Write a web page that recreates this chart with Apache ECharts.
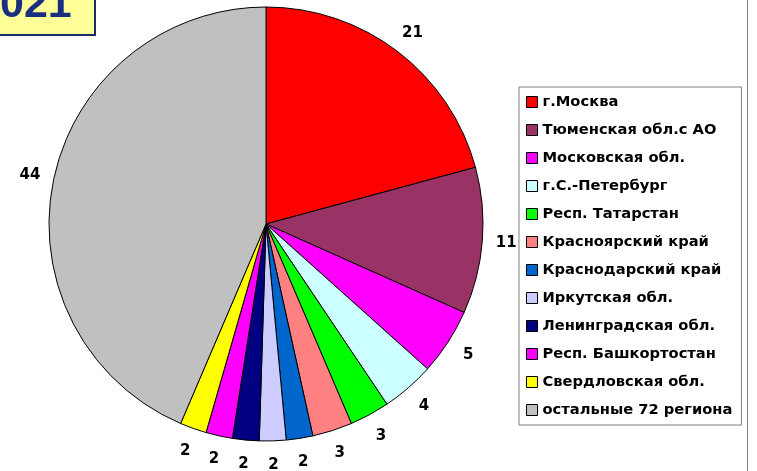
<!DOCTYPE html>
<html>
<head>
<meta charset="utf-8">
<script src="https://cdn.jsdelivr.net/npm/echarts@6/dist/echarts.min.js"></script>
<style>
  html, body { margin: 0; padding: 0; background: #fff; }
  #chart { width: 757px; height: 471px; }
</style>
</head>
<body>
<div id="chart"></div>
<script>
const regions = [
  'г.Москва',
  'Тюменская обл.с АО',
  'Московская обл.',
  'г.С.-Петербург',
  'Респ. Татарстан',
  'Красноярский край',
  'Краснодарский край',
  'Иркутская обл.',
  'Ленинградская обл.',
  'Респ. Башкортостан',
  'Свердловская обл.',
  'остальные 72 региона'
]
const shares = [21, 11, 5, 4, 3, 3, 2, 2, 2, 2, 2, 44]
const palette = ['#ff0000', '#993366', '#ff00ff', '#ccffff', '#00ff00', '#ff8080',
  '#0066cc', '#ccccff', '#000080', '#ff00ff', '#ffff00', '#c0c0c0']
const yearLabel = '021'

const center = [266, 224]
const font = 'DejaVu Sans'

const chart = echarts.init(document.getElementById('chart'), null, { renderer: 'canvas' })

chart.setOption({
  animation: false,
  backgroundColor: '#fff',
  color: palette,
  legend: {
    orient: 'vertical',
    left: 519,
    top: 87,
    padding: [7, 9, 7, 7],
    itemGap: 12,
    itemWidth: 11,
    itemHeight: 11,
    icon: 'rect',
    selectedMode: false,
    backgroundColor: '#fff',
    borderColor: '#808080',
    borderWidth: 1,
    itemStyle: { borderColor: '#000', borderWidth: 1 },
    textStyle: { color: '#000', fontFamily: font, fontWeight: 'bold', fontSize: 14.7, lineHeight: 16 },
    data: regions
  },
  graphic: [
    {
      type: 'rect',
      shape: { x: -10, y: -10, width: 105, height: 45 },
      style: { fill: '#ffff99', stroke: '#1a2a6c', lineWidth: 2 },
      silent: true
    },
    {
      type: 'text',
      x: 0,
      y: 27,
      style: {
        text: yearLabel,
        fill: '#1a2f80',
        font: 'bold 43px "Liberation Sans", Arial, sans-serif',
        verticalAlign: 'bottom'
      },
      silent: true
    },
    {
      type: 'line',
      shape: { x1: 747.5, y1: 0, x2: 747.5, y2: 471 },
      style: { stroke: '#808080', lineWidth: 1 },
      silent: true
    }
  ],
  series: [
    {
      name: 'pie',
      type: 'pie',
      center: center,
      radius: 217,
      startAngle: 90,
      clockwise: true,
      silent: true,
      label: { show: false },
      labelLine: { show: false },
      itemStyle: { borderColor: '#000', borderWidth: 1 },
      emphasis: { disabled: true },
      data: regions.map((name, i) => ({ name, value: shares[i] }))
    },
    {
      name: 'labels',
      type: 'pie',
      center: center,
      radius: [225, 251],
      startAngle: 90,
      clockwise: true,
      silent: true,
      legendHoverLink: false,
      itemStyle: { color: 'rgba(0,0,0,0)', borderWidth: 0 },
      emphasis: { disabled: true },
      label: {
        show: true,
        position: 'inside',
        formatter: '{c}',
        color: '#000',
        fontFamily: font,
        fontWeight: 'bold',
        fontSize: 15,
        padding: [9, 0, 0, 0]
      },
      labelLine: { show: false },
      data: regions.map((name, i) => ({ name, value: shares[i] }))
    }
  ]
})
</script>
</body>
</html>
